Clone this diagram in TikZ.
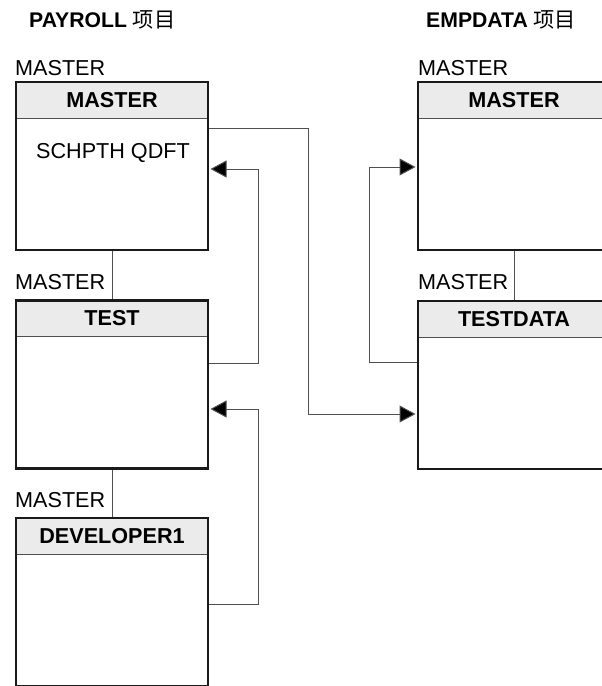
\documentclass[tikz,border=0pt]{standalone}
\usepackage{fontspec}
\setmainfont{Liberation Sans}
\newfontfamily\cjk{Noto Sans CJK SC}
\usetikzlibrary{arrows.meta}
\definecolor{hdrgray}{HTML}{EBEBEB}
\definecolor{linegray}{HTML}{505050}
\definecolor{framecol}{HTML}{1A1A1A}
\begin{document}
\begin{tikzpicture}[x=1pt,y=-1pt,
  every node/.style={font=\fontsize{21.6}{25}\selectfont},
  boxframe/.style={draw=framecol, line width=2.6pt, minimum width=192pt, minimum height=168pt, inner sep=0pt},
  hdr/.style={fill=hdrgray, draw=linegray, line width=1pt, minimum width=192pt, minimum height=36pt, inner sep=0pt, font=\fontsize{21.6}{25}\selectfont\bfseries},
  conn/.style={draw=linegray, line width=1pt},
  arr/.style={conn, -{Triangle[length=16pt,width=17pt,fill=black]}, shorten >=1.2pt},
  lbl/.style={anchor=base west, inner sep=0pt},
  ttl/.style={anchor=base west, inner sep=0pt, font=\fontsize{21.2}{24}\selectfont}
]
\useasboundingbox (0,0) rectangle (602,686);
\clip (0,0) rectangle (602,686);

% titles
\node[ttl] (t1) at (29,27) {\textbf{PAYROLL} {\cjk 项目}};
\node[ttl] (t2) at (426,27) {\textbf{EMPDATA} {\cjk 项目}};

% labels
\node[lbl] (l1) at (15,75) {MASTER};
\node[lbl] (l2) at (418,75) {MASTER};
\node[lbl] (l3) at (15,289) {MASTER};
\node[lbl] (l4) at (15,507) {MASTER};
\node[lbl] (l5) at (418,289) {MASTER};

% headers
\node[hdr] (pmh) at (112,100) {MASTER};
\node[hdr] (pth) at (112,318.5) {TEST};
\node[hdr] (pdh) at (112,536) {DEVELOPER1};
\node[hdr] (emh) at (514,100) {MASTER};
\node[hdr] (tdh) at (514,319) {TESTDATA};

% frames
\node[boxframe] (pm) at (112,166) {};
\node[boxframe] (pt) at (112,384.5) {};
\node[boxframe] (pd) at (112,602) {};
\node[boxframe] (em) at (514,166) {};
\node[boxframe] (td) at (514,385) {};

\node[anchor=base, inner sep=0pt] (q) at (113,158) {SCHPTH QDFT};

% tree lines
\draw[conn] (pm.south) -- (pt.north);
\draw[conn] (pt.south) -- (pd.north);
\draw[conn] (em.south) -- (td.north);

% connectors
\draw[arr] (pm.east |- 0,128) -- (308,128) -- (308,414) -- (td.west |- 0,414);
\draw[arr] (pt.east |- 0,363) -- (258,363) -- (258,169) -- (pm.east |- 0,169);
\draw[arr] (pd.east |- 0,604) -- (258,604) -- (258,409) -- (pt.east |- 0,409);
\draw[arr] (td.west |- 0,362) -- (369,362) -- (369,167) -- (em.west |- 0,167);
\end{tikzpicture}
\end{document}
